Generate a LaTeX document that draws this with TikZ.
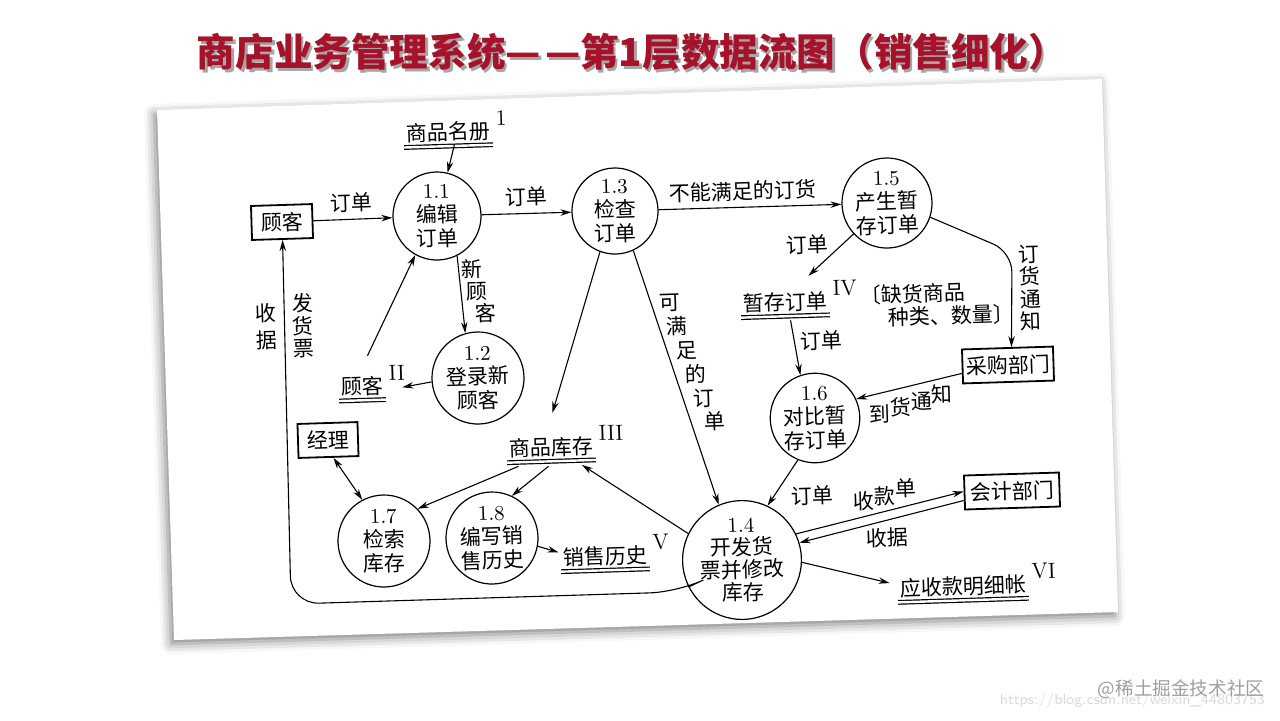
\documentclass[tikz,border=0pt]{standalone}
\usepackage{fontspec}
\usetikzlibrary{arrows.meta,shadows.blur}
\newfontfamily\cjk{Noto Sans CJK SC}
\definecolor{titlered}{HTML}{A5122A}
\newcommand\numsup[1]{\rlap{\hspace{3pt}\raisebox{6.5pt}{\rmfamily\fontsize{11}{11}\selectfont #1}}}
\tikzset{
  base/.style={rotate=1.8, font=\cjk\fontsize{10.5}{12}\selectfont, inner sep=0pt},
  proc/.style={base, circle, draw, line width=0.6pt, align=center, minimum size=45pt},
  ent/.style={base, draw, line width=0.9pt, minimum height=17pt, inner xsep=1pt},
  store/.style={base, inner sep=1pt},
  lab/.style={base},
  vlab/.style={base, align=left, font=\cjk\fontsize{10.5}{11.25}\selectfont},
  arr/.style={line width=0.55pt, -{Stealth[length=5.5pt,width=3.2pt]}},
  dbl/.style={double, double distance=1.2pt, line width=0.6pt},
  titlefont/.style={font=\cjk\bfseries\fontsize{19.3}{20}\selectfont},
}
\begin{document}
\begin{tikzpicture}[x=0.5pt,y=-0.5pt]
\useasboundingbox (0,0) rectangle (1280,720);
% paper
\fill[white, blur shadow={shadow xshift=-1.5pt, shadow yshift=-2pt, shadow blur radius=5pt, shadow opacity=50}]
  (157,110) -- (1102,79) -- (1118,612) -- (174,640) -- cycle;
% title
\node[titlefont, text=black!35] (titleshadow) at (634.5,55) {商店业务管理系统—\kern2pt—第1层数据流图（销售细化）};
\node[titlefont, text=titlered] (title) at (632,52) {商店业务管理系统—\kern2pt—第1层数据流图（销售细化）};
% watermark
\node[font=\sffamily\fontsize{7.5}{8}\selectfont, text=gray!30, anchor=east] (url) at (1272,701) {https://blog.csdn.net/weixin\_44803753};
\node[font=\cjk\fontsize{9.3}{10}\selectfont, text=gray!75] (wm) at (1181,689) {@稀土掘金技术社区};

% processes
\node[proc, minimum size=44pt] (p11) at (437,216) {{\rmfamily 1.1}\\编辑\\订单};
\node[proc, minimum size=46pt] (p12) at (478,378) {{\rmfamily 1.2}\\登录新\\顾客};
\node[proc, minimum size=43pt] (p13) at (615,211) {{\rmfamily 1.3}\\检查\\订单};
\node[proc, minimum size=45pt] (p15) at (887,203) {{\rmfamily 1.5}\\产生暂\\存订单};
\node[proc, minimum size=44pt] (p16) at (815,418) {{\rmfamily 1.6}\\对比暂\\存订单};
\node[proc, minimum size=46pt] (p17) at (384,541) {{\rmfamily 1.7}\\检索\\库存};
\node[proc, minimum size=46pt] (p18) at (492,538) {{\rmfamily 1.8}\\编写销\\售历史};
\node[proc, minimum size=47pt, font=\cjk\fontsize{10.5}{11.3}\selectfont] (p14) at (742,560) {{\rmfamily 1.4}\\开发货\\票并修改\\库存};

% external entities
\node[ent, minimum width=30.5pt] (c1) at (282,222) {顾客};
\node[ent, minimum width=30pt] (c2) at (328,440) {经理};
\node[ent, minimum width=45.5pt] (c3) at (1008,365) {采购部门};
\node[ent, minimum width=47.5pt] (c4) at (1012,491) {会计部门};

% data stores
\node[store] (s1) at (448,127) {商品名册\numsup{1}};
\node[store] (s2) at (362,381) {顾客\numsup{II}};
\node[store] (s3) at (551,442) {商品库存\numsup{III}};
\node[store] (s4) at (785,297) {暂存订单\numsup{IV}};
\node[store] (s5) at (605,551) {销售历史\numsup{V}};
\node[store] (s6) at (963,581) {应收款明细帐\numsup{VI}};
\foreach \s in {s1,s2,s3,s4,s5,s6}
  \draw[dbl] ([yshift=-1pt]\s.south west) -- ([yshift=-1pt]\s.south east);

% annotation
\node[lab, anchor=west, align=left, font=\cjk\fontsize{10.5}{11.5}\selectfont] (note) at (860,307) {〔缺货商品\\\hspace*{1.3em}种类、数量〕};

% connectors
\draw[arr] (c1) -- (p11);
\draw[arr] (p11) -- (p13);
\draw[arr] ([xshift=3pt]s1.south) -- (p11);
\draw[arr] (p11.-65) -- (p12.104);
\draw[arr] ([xshift=3pt,yshift=4pt]s2.north) -- (p11.239);
\draw[arr] (p12.183) -- ([xshift=8.5pt,yshift=-3.5pt]s2.east);
\draw[arr, rounded corners=14pt] (p14.205) -- (678,592) -- (291,604) -- (c1.south);
\draw[arr] (p13) -- (p15);
\draw[arr] (p15.221) -- ([xshift=12pt,yshift=2pt]s4.north);
\draw[arr, rounded corners=10pt] (p15.-20) -- (1012,252) -- ([xshift=2pt]c3.north);
\draw[arr] ([xshift=2.5pt,yshift=-3pt]s4.south) -- (p16.107);
\draw[arr] ([yshift=-3.5pt]c3.west) -- (p16.23);
\draw[arr] (p13.248) -- ([xshift=1pt,yshift=6pt]s3.north);
\draw[arr] (p13.-67) -- (p14.111);
\draw[arr] (p16.246) -- (p14.63);
\draw[arr] (p14.24) -- ([yshift=0.5pt]c4.west);
\draw[arr] ([yshift=-4pt]c4.west) -- (p14.15);
\draw[arr] (p14.-4) -- ([xshift=-4pt]s6.west);
\draw[arr] (p14.152) -- ([xshift=-7pt,yshift=-3.5pt]s3.south east);
\draw[arr] ([xshift=-16.5pt,yshift=-3.5pt]s3.south) -- (p17.42);
\draw[arr] ([xshift=-1.5pt,yshift=-3.5pt]s3.south) -- (p18.63);
\draw[line width=0.55pt, {Stealth[length=5.5pt,width=3.2pt]}-{Stealth[length=5.5pt,width=3.2pt]}] ([xshift=2.5pt]c2.south) -- (p17.116);
\draw[arr] (p18.-12) -- ([xshift=-1pt]s5.west);

% labels
\node[lab] (l1) at (351,203) {订单};
\node[lab] (l2) at (526,197) {订单};
\node[lab] (l3) at (743,191) {不能满足的订货};
\node[lab] (l4) at (807,245) {订单};
\node[vlab] (l5) at (1030,288) {订\\货\\通\\知};
\node[lab] (l6) at (821,341) {订单};
\node[lab] (l7) at (911,404) {到\raisebox{3pt}{货}\raisebox{6pt}{通}\raisebox{9pt}{知}};
\node[lab] (l8) at (812,496) {订单};
\node[lab] (l9) at (885,495) {收\raisebox{2.5pt}{款}\raisebox{6pt}{单}};
\node[lab] (l10) at (887,538) {收据};
\node[vlab] (l11) at (478.5,291) {新\\\hspace*{2.5pt}顾\\\hspace*{6.5pt}客};
\node[vlab, font=\cjk\fontsize{10.5}{12.1}\selectfont] (l12) at (692.5,362.5) {可\\\hspace*{3pt}满\\\hspace*{7.5pt}足\\\hspace*{11.5pt}的\\\hspace*{15.5pt}订\\\hspace*{20.5pt}单};
\node[vlab, font=\cjk\fontsize{10.5}{13.5}\selectfont] (l13) at (266,327) {收\\据};
\node[vlab] (l14) at (303,326) {发\\货\\票};
\end{tikzpicture}
\end{document}
